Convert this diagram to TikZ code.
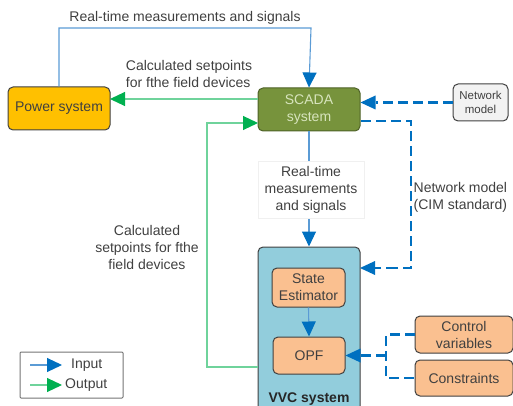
\documentclass[tikz,border=0pt]{standalone}
\usepackage{fontspec}
\setmainfont{Liberation Sans}
\usetikzlibrary{arrows.meta,calc}
\definecolor{txt}{HTML}{404040}
\definecolor{bline}{HTML}{5B9BD5}
\definecolor{bhead}{HTML}{0070C0}
\definecolor{gline}{HTML}{6FD39B}
\definecolor{ghead}{HTML}{00B050}
\definecolor{pfill}{HTML}{FFC000}
\definecolor{sfill}{HTML}{77933C}
\definecolor{sborder}{HTML}{4F6228}
\definecolor{stext}{HTML}{D7E4BD}
\definecolor{vfill}{HTML}{92CDDC}
\definecolor{ofill}{HTML}{FAC090}
\definecolor{nfill}{HTML}{F2F2F2}
\tikzset{
  box/.style={draw=txt, rounded corners=5pt, line width=1pt, inner sep=0pt, align=center, text=txt, font=\fontsize{14}{17}\selectfont},
  inarrow/.style={draw=bline, line width=1.1pt, -{Triangle[length=15pt,width=14pt,color=bhead]}},
  outarrow/.style={draw=gline, line width=1.1pt, -{Triangle[length=15pt,width=14pt,color=ghead]}},
  dasharrow/.style={draw=bhead, line width=2.3pt, dash pattern=on 10pt off 5pt, -{Triangle[length=15pt,width=14pt,color=bhead,line width=0pt]}},
  dashline/.style={draw=bhead, line width=2.3pt, dash pattern=on 10pt off 5pt},
  lbl/.style={text=txt, align=center, inner sep=1pt, font=\fontsize{14}{17}\selectfont}
}
\begin{document}
\begin{tikzpicture}[x=1pt,y=-1pt]
\useasboundingbox (0,0) rectangle (513,406);
% boxes
\node[box, fill=pfill, draw=black!75, minimum width=102pt, minimum height=43pt, text=txt] (power) at (59,108.5) {Power system};
\node[box, fill=sfill, draw=sborder, minimum width=102pt, minimum height=43pt, text=stext] (scada) at (309,109.5) {SCADA\\system};
\node[box, fill=nfill, minimum width=55pt, minimum height=37pt, font=\fontsize{11.5}{14}\selectfont] (netm) at (480.5,102.5) {Network\\model};
\node[box, fill=vfill, minimum width=102pt, minimum height=170pt] (vvc) at (309,332) {};
\node[font=\bfseries\fontsize{14}{16}\selectfont, text=black!85, anchor=base] (vvclbl) at (309,402) {VVC system};
\node[box, fill=ofill, minimum width=73pt, minimum height=39pt] (se) at (308.5,287.5) {State\\Estimator};
\node[box, fill=ofill, minimum width=72pt, minimum height=37pt] (opf) at (309,355.5) {OPF};
\node[box, fill=ofill, minimum width=98pt, minimum height=37pt] (ctrl) at (464,334.5) {Control\\variables};
\node[box, fill=ofill, minimum width=98pt, minimum height=36pt] (cons) at (464,378) {Constraints};
% legend
\node[draw=black!55, line width=1pt, rounded corners=1pt, minimum width=103pt, minimum height=46pt, inner sep=0pt] (legend) at (71.5,375) {};
\coordinate (li1) at (30,365);
\coordinate (li2) at (62,365);
\coordinate (lo1) at (30,385);
\coordinate (lo2) at (62,385);
\draw[inarrow] (li1) -- (li2);
\draw[outarrow] (lo1) -- (lo2);
\node[lbl, anchor=west] (lin) at (70,365) {Input};
\node[lbl, anchor=west] (lout) at (64,385) {Output};
% connectors
\coordinate (topr) at (311,28);
\draw[inarrow] (power.north) |- (topr) -- (scada.north);
\node[lbl] (toplbl) at (185,18) {Real-time measurements and signals};
\coordinate (g1s) at (258,99);
\coordinate (g1e) at (110,99);
\draw[outarrow] (g1s) -- (g1e);
\node[lbl, align=left] (g1lbl) at (189,73.5) {Calculated setpoints\\for fthe field devices};
\coordinate (g2s) at (258,367);
\coordinate (g2c) at (207,123);
\coordinate (g2e) at (258,123);
\draw[outarrow] (g2s) -| (g2c) -- (g2e);
\node[lbl] (g2lbl) at (147,247.5) {Calculated\\setpoints for fthe\\field devices};
\draw[inarrow] (scada.south) -- (vvc.north);
\node[lbl, fill=white, draw=black!6, inner xsep=7pt, inner ysep=5pt] (midlbl) at (311,189.5) {Real-time\\measurements\\and signals};
\draw[dasharrow] (netm.west) -- (scada.east |- netm.west);
\coordinate (d1s) at (361,121);
\coordinate (d1c) at (411,268);
\coordinate (d1m) at (396,268);
\coordinate (d1e) at (360,268);
\draw[dashline] (d1s) -| (d1c) -- (d1m);
\draw[dasharrow] (d1m) -- (d1e);
\node[lbl, anchor=west, align=left, fill=white, inner sep=0.5pt] (cimlbl) at (413,197) {Network model\\(CIM standard)};
\draw[inarrow] (se.south) -- (opf.north);
\coordinate (bk1) at (386,334.5);
\coordinate (bk2) at (386,378);
\coordinate (bkm) at (386,355.5);
\draw[dashline] (ctrl.west) -- (bk1) -- (bk2) -- (cons.west);
\draw[dasharrow] (bkm) -- (opf.east);
\end{tikzpicture}
\end{document}
